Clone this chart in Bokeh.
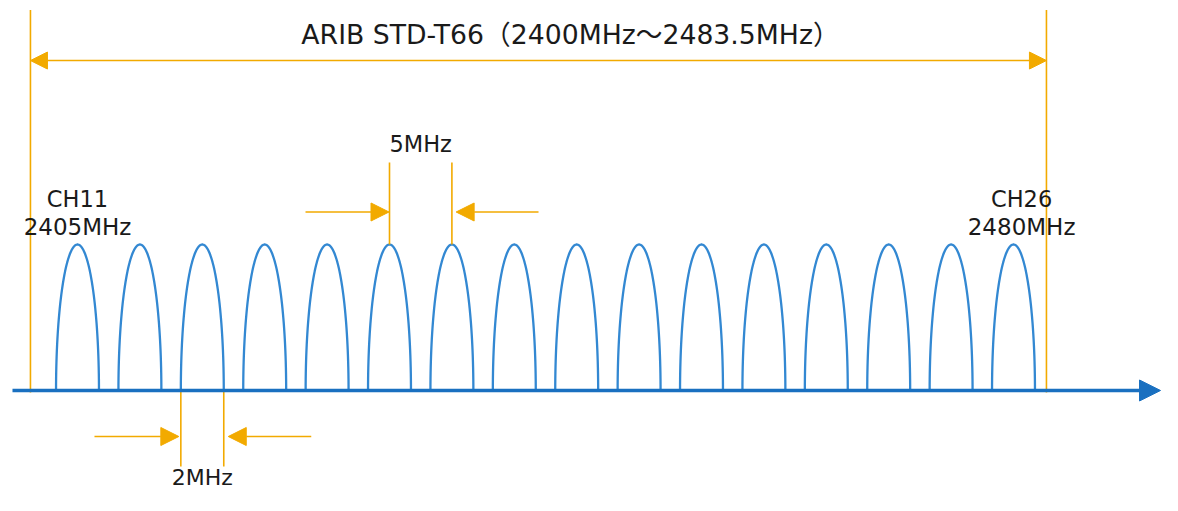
import numpy as np
from bokeh.plotting import figure
from bokeh.models import Range1d, Arrow, NormalHead
from bokeh.core.properties import value
from bokeh.embed import file_html
from bokeh.resources import INLINE

# ---- data ----
channels = ["CH11", "CH12", "CH13", "CH14", "CH15", "CH16", "CH17", "CH18",
            "CH19", "CH20", "CH21", "CH22", "CH23", "CH24", "CH25", "CH26"]
center_mhz = [2405, 2410, 2415, 2420, 2425, 2430, 2435, 2440,
              2445, 2450, 2455, 2460, 2465, 2470, 2475, 2480]
peak_level = [1.0] * 16
half_width_mhz = 1.72          # drawn half width of each channel lobe
band_label = "ARIB STD-T66（2400MHz～2483.5MHz）"
band_edges = [2401.23, 2482.64]  # drawn positions of the band edges
end_labels = ["CH11", "CH26"]
end_freq_labels = ["2405MHz", "2480MHz"]
end_label_x = [2405.0, 2480.65]
spacing_label = "5MHz"
spacing_pair = [2430, 2435]
width_label = "2MHz"
width_channel = 2415

ORANGE = "#F2AA00"
BLUE = "#1A70C0"
LOBE = "#3388D2"
TXT = "#1a1a1a"
FONT = value("DejaVu Sans, Noto Sans CJK JP")

p = figure(width=1162, height=495, output_backend="svg", toolbar_location=None,
           x_range=Range1d(2398.830, 2491.939), y_range=Range1d(-0.7192, 2.6712),
           x_axis_type=None, y_axis_type=None, min_border=0)
p.grid.visible = False
p.outline_line_color = None
p.background_fill_color = "white"

# channel lobes (half ellipses)
t = np.linspace(0, np.pi, 80)
xs = [c + half_width_mhz * np.cos(t) for c in center_mhz]
ys = [h * np.sin(t) for h in peak_level]
p.multi_line(xs=xs, ys=ys, line_color=LOBE, line_width=2.3)

# frequency axis arrow
p.add_layout(Arrow(end=NormalHead(size=21, fill_color=BLUE, line_color=BLUE),
                   x_start=2399.79, y_start=0, x_end=2491.78, y_end=0,
                   line_color=BLUE, line_width=3.5))

# band edges
p.segment(x0=band_edges, x1=band_edges, y0=[-0.014] * 2, y1=[2.606] * 2,
          line_color=ORANGE, line_width=1.6)
p.add_layout(Arrow(start=NormalHead(size=17, fill_color=ORANGE, line_color=ORANGE),
                   end=NormalHead(size=17, fill_color=ORANGE, line_color=ORANGE),
                   x_start=band_edges[0], y_start=2.26, x_end=band_edges[1], y_end=2.26,
                   line_color=ORANGE, line_width=1.6))
p.text(x=[2444.5], y=[2.4363], text=[band_label], text_font=FONT,
       text_font_size="26.7px", text_align="center", text_baseline="alphabetic",
       text_color=TXT)

# end channel labels
p.text(x=end_label_x, y=[1.3130] * 2, text=end_labels, text_font=FONT,
       text_font_size="22.5px", text_align="center", text_baseline="alphabetic",
       text_color=TXT)
p.text(x=end_label_x, y=[1.1232] * 2, text=end_freq_labels, text_font=FONT,
       text_font_size="23px", text_align="center", text_baseline="alphabetic",
       text_color=TXT)

# 5MHz spacing marker
p.segment(x0=spacing_pair, x1=spacing_pair, y0=[1.0] * 2, y1=[1.562] * 2,
          line_color=ORANGE, line_width=1.6)
p.add_layout(Arrow(end=NormalHead(size=18, fill_color=ORANGE, line_color=ORANGE),
                   x_start=2423.27, y_start=1.2226, x_end=2429.96, y_end=1.2226,
                   line_color=ORANGE, line_width=1.6))
p.add_layout(Arrow(end=NormalHead(size=18, fill_color=ORANGE, line_color=ORANGE),
                   x_start=2441.94, y_start=1.2226, x_end=2435.34, y_end=1.2226,
                   line_color=ORANGE, line_width=1.6))
p.text(x=[(spacing_pair[0] + spacing_pair[1]) / 2], y=[1.6916], text=[spacing_label],
       text_font=FONT, text_font_size="22.5px", text_align="center",
       text_baseline="alphabetic", text_color=TXT)

# 2MHz width marker
wx = [width_channel - half_width_mhz, width_channel + half_width_mhz]
p.segment(x0=wx, x1=wx, y0=[0.0] * 2, y1=[-0.5205] * 2,
          line_color=ORANGE, line_width=1.6)
p.add_layout(Arrow(end=NormalHead(size=18, fill_color=ORANGE, line_color=ORANGE),
                   x_start=2406.36, y_start=-0.3151, x_end=2413.12, y_end=-0.3151,
                   line_color=ORANGE, line_width=1.6))
p.add_layout(Arrow(end=NormalHead(size=18, fill_color=ORANGE, line_color=ORANGE),
                   x_start=2423.73, y_start=-0.3151, x_end=2417.08, y_end=-0.3151,
                   line_color=ORANGE, line_width=1.6))
p.text(x=[width_channel], y=[-0.5990], text=[width_label],
       text_font=FONT, text_font_size="22px", text_align="center",
       text_baseline="alphabetic", text_color=TXT)

open("out.html", "w").write(file_html(p, INLINE))
